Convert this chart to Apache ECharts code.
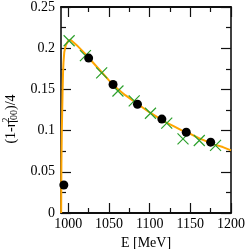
<!DOCTYPE html>
<html>
<head>
<meta charset="utf-8">
<script src="https://cdn.jsdelivr.net/npm/echarts@6/dist/echarts.min.js"></script>
<style>
html,body{margin:0;padding:0;background:#fff;}
#chart{width:248px;height:249px;}
</style>
</head>
<body>
<div id="chart"></div>
<script>
// Orange curve
var curveE = [991.2, 991.5, 992, 992.5, 993, 993.5, 994, 995, 997, 1000, 1003, 1010, 1020, 1030, 1040, 1050, 1060, 1070, 1080, 1090, 1100, 1110, 1120, 1130, 1140, 1150, 1160, 1170, 1180, 1190, 1200];
var curveV = [0, 0.06, 0.10, 0.125, 0.15, 0.17, 0.182, 0.195, 0.204, 0.209, 0.21, 0.204, 0.194, 0.183, 0.172, 0.161, 0.151, 0.143, 0.136, 0.129, 0.122, 0.116, 0.110, 0.105, 0.100, 0.096, 0.091, 0.087, 0.083, 0.080, 0.076];
// Green crosses
var crossE = [1001, 1021, 1041, 1061, 1081, 1101, 1121, 1141, 1161, 1181];
var crossV = [0.209, 0.191, 0.170, 0.148, 0.136, 0.121, 0.109, 0.090, 0.088, 0.082];
// Black circles
var dotE = [994.5, 1025, 1055, 1085, 1115, 1145, 1175];
var dotV = [0.034, 0.188, 0.156, 0.132, 0.114, 0.098, 0.086];
// Ticks
var xMajor = [1000, 1050, 1100, 1150, 1200];
var xMinor = [1025, 1075, 1125, 1175];

function zip(a, b) { return a.map(function (v, i) { return [v, b[i]]; }); }

var font = 'Liberation Serif';
var X_MIN = 991, X_MAX = 1200;
var tickStyle = { color: '#111', width: 1.2 };
function xAx(opts) {
  var base = {
    type: 'value', min: X_MIN, max: X_MAX,
    axisLine: { show: true, onZero: false, lineStyle: { color: '#000', width: 1.5 } },
    splitLine: { show: false },
    axisLabel: { show: false },
    axisTick: { show: true, inside: true, length: 10, lineStyle: tickStyle, customValues: xMajor }
  };
  return Object.assign(base, opts);
}
var chart = echarts.init(document.getElementById('chart'), null, { renderer: 'canvas' });
chart.setOption({
  animation: false,
  backgroundColor: '#fff',
  grid: { left: 61, right: 17, top: 7, bottom: 36, containLabel: false, outerBoundsMode: 'none' },
  xAxis: [
    xAx({
      position: 'bottom',
      name: 'E [MeV]', nameLocation: 'middle', nameGap: 11,
      nameTextStyle: { fontFamily: font, fontSize: 14, color: '#000', verticalAlign: 'top' },
      axisLabel: { show: true, customValues: xMajor, fontFamily: font, fontSize: 14, color: '#000', margin: 4,
        formatter: function (v) { return String(Math.round(v)); } }
    }),
    xAx({ position: 'bottom', axisTick: { show: true, inside: true, length: 5, lineStyle: tickStyle, customValues: xMinor } }),
    xAx({ position: 'top' }),
    xAx({ position: 'top', axisTick: { show: true, inside: true, length: 5, lineStyle: tickStyle, customValues: xMinor } })
  ],
  yAxis: [
    {
      type: 'value', min: 0, max: 0.25, interval: 0.05, position: 'left',
      name: '{n|(1-η}{sup|2}{sub|00}{n|)/4}', nameLocation: 'middle', nameGap: 36, nameRotate: 90,
      nameTextStyle: {
        fontFamily: font, fontSize: 14, color: '#000', padding: [0, 18, 0, 0],
        rich: {
          n: { fontFamily: font, fontSize: 14, color: '#000' },
          sup: { fontFamily: font, fontSize: 10, color: '#000', padding: [0, 0, 9, 0], width: 0 },
          sub: { fontFamily: font, fontSize: 10, color: '#000', padding: [7, 0, 0, 0] }
        }
      },
      axisLine: { show: true, onZero: false, lineStyle: { color: '#000', width: 1.5 } },
      splitLine: { show: false },
      axisTick: { show: true, inside: true, length: 10, lineStyle: tickStyle },
      minorTick: { show: true, splitNumber: 2, length: 5, lineStyle: tickStyle },
      minorSplitLine: { show: false },
      axisLabel: { fontFamily: font, fontSize: 14, color: '#000', margin: 6,
        formatter: function (v) { return v === 0 ? '0' : String(+v.toFixed(3)); } }
    },
    {
      type: 'value', min: 0, max: 0.25, interval: 0.05, position: 'right',
      axisLine: { show: true, onZero: false, lineStyle: { color: '#000', width: 1.5 } },
      splitLine: { show: false },
      axisTick: { show: true, inside: true, length: 10, lineStyle: tickStyle },
      minorTick: { show: true, splitNumber: 2, length: 5, lineStyle: tickStyle },
      minorSplitLine: { show: false },
      axisLabel: { show: false }
    }
  ],
  series: [
    { type: 'line', data: zip(curveE, curveV), showSymbol: false, symbol: 'none', lineStyle: { color: '#ffa500', width: 2 }, z: 2 },
    { type: 'scatter', data: zip(crossE, crossV), symbol: 'path://M0,0L10,10M10,0L0,10', symbolSize: 11,
      itemStyle: { color: 'rgba(0,0,0,0)', borderColor: '#2ca02c', borderWidth: 1.2, opacity: 1 }, z: 3 },
    { type: 'scatter', data: zip(dotE, dotV), symbol: 'circle', symbolSize: 9, itemStyle: { color: '#000', opacity: 1 }, z: 4 }
  ]
});
</script>
</body>
</html>
